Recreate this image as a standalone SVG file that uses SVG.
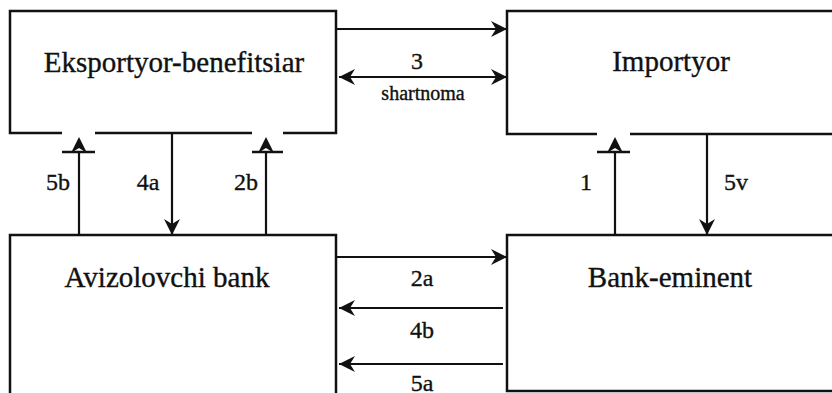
<svg xmlns="http://www.w3.org/2000/svg" width="832" height="393" viewBox="0 0 832 393">
<style>
.box{fill:none;stroke:#111;stroke-width:2.5}
.ln{fill:none;stroke:#111;stroke-width:2.2}
text{font-family:'Liberation Serif','Times New Roman',serif;fill:#111;stroke:#111;stroke-width:0.35;text-anchor:middle}
.title{font-size:29px}
.lbl{font-size:24px}
.sm{font-size:20px}
</style>
<defs>
<marker id="ah" viewBox="-17 -9 18 18" refX="0" refY="0" markerWidth="18" markerHeight="18" markerUnits="userSpaceOnUse" orient="auto-start-reverse">
<path d="M0,0 L-16,-8 L-11,0 L-16,8 Z" fill="#111"/>
</marker>
<marker id="ahs" viewBox="-1 -9 18 18" refX="0" refY="0" markerWidth="18" markerHeight="18" markerUnits="userSpaceOnUse" orient="auto">
<path d="M16,0 L0,-8 L5,0 L0,8 Z" fill="#111"/>
</marker>
</defs>
<rect width="832" height="393" fill="#fff"/>
<g id="eksportyor">
<path class="box" d="M62,133 L10,133 L10,11 L336,11 L336,133 L283,133 M252,133 L95,133"/>
<text class="title" x="174" y="72">Eksportyor-benefitsiar</text>
</g>
<g id="importyor">
<path class="box" d="M840,11 L507,11 L507,134 L597,134 M630,134 L840,134"/>
<text class="title" x="671" y="71">Importyor</text>
</g>
<g id="avizolovchi">
<path class="box" d="M10,400 L10,235 L336,235 L336,400"/>
<text class="title" x="167" y="287">Avizolovchi bank</text>
</g>
<g id="bank-eminent">
<path class="box" d="M840,235 L507,235 L507,391 L840,391"/>
<text class="title" x="670" y="287">Bank-eminent</text>
</g>
<g id="connectors">
<line class="ln" x1="336" y1="29" x2="507" y2="29" marker-end="url(#ah)"/>
<line class="ln" x1="339" y1="77" x2="507" y2="77" marker-start="url(#ah)" marker-end="url(#ah)"/>
<line class="ln" x1="172" y1="133" x2="172" y2="235" marker-end="url(#ah)"/>
<line class="ln" x1="707" y1="134" x2="707" y2="235" marker-end="url(#ah)"/>
<line class="ln" x1="79" y1="235" x2="79" y2="153" marker-end="url(#ahs)"/>
<line class="ln" x1="266" y1="235" x2="266" y2="153" marker-end="url(#ahs)"/>
<line class="ln" x1="615" y1="235" x2="615" y2="153" marker-end="url(#ahs)"/>
<line class="box" x1="62" y1="152" x2="95" y2="152"/>
<line class="box" x1="252" y1="152" x2="283" y2="152"/>
<line class="box" x1="597" y1="152" x2="630" y2="152"/>
<line class="ln" x1="336" y1="257" x2="507" y2="257" marker-end="url(#ah)"/>
<line class="ln" x1="503" y1="308" x2="339" y2="308" marker-end="url(#ah)"/>
<line class="ln" x1="503" y1="364" x2="339" y2="364" marker-end="url(#ah)"/>
<text class="lbl" x="417" y="69">3</text>
<text class="sm" x="423" y="100">shartnoma</text>
<text class="lbl" x="58" y="190">5b</text>
<text class="lbl" x="148" y="190">4a</text>
<text class="lbl" x="246" y="190">2b</text>
<text class="lbl" x="586" y="190">1</text>
<text class="lbl" x="736" y="190">5v</text>
<text class="lbl" x="422" y="286">2a</text>
<text class="lbl" x="422" y="338">4b</text>
<text class="lbl" x="422" y="391">5a</text>
</g>
</svg>
